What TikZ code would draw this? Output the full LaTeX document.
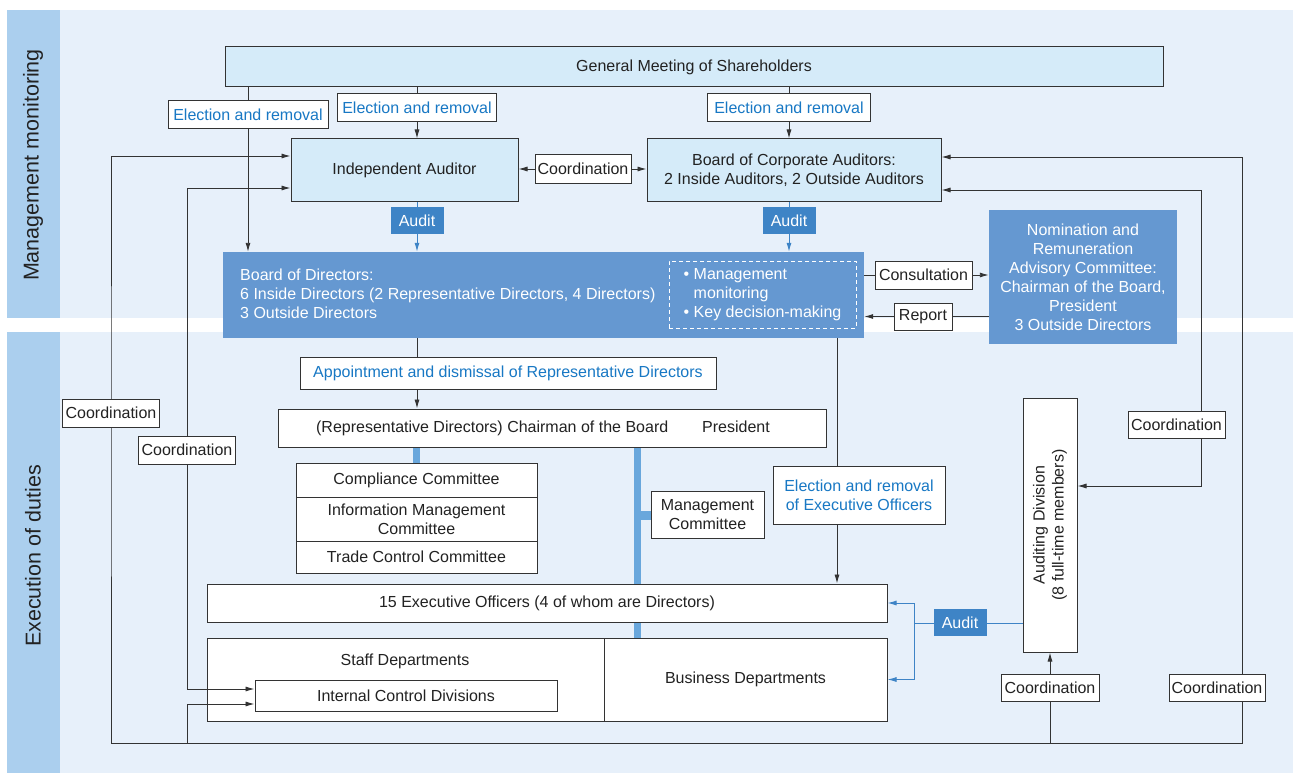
\documentclass[tikz,border=0pt]{standalone}
\usepackage{fontspec}
\setmainfont{Liberation Sans}
\usepackage{tikz}
\usetikzlibrary{arrows.meta,positioning}
\definecolor{panelblue}{HTML}{E7F0FA}
\definecolor{stripblue}{HTML}{ABCFEE}
\definecolor{paleblue}{HTML}{D5EBF9}
\definecolor{boardblue}{HTML}{6598D1}
\definecolor{auditblue}{HTML}{3E84C6}
\definecolor{barblue}{HTML}{69A7DC}
\definecolor{tagblue}{HTML}{1878C4}
\definecolor{linegray}{HTML}{333333}
\definecolor{textgray}{HTML}{222222}
\pgfdeclarelayer{panels}
\pgfdeclarelayer{wires}
\pgfsetlayers{panels,wires,main}
\tikzstyle{organ} = [draw=linegray, fill=paleblue, line width=1pt, inner sep=0pt, align=center, text=textgray]
\tikzstyle{plainbox} = [draw=linegray, fill=white, line width=1pt, inner sep=0pt, align=center, text=textgray]
\tikzstyle{tagbox} = [plainbox, text=tagblue]
\tikzstyle{auditbox} = [fill=auditblue, text=white, inner sep=0pt, minimum width=53pt, minimum height=27pt]
\tikzstyle{boardbox} = [fill=boardblue, inner sep=0pt, text=white, align=center]
\tikzstyle{wire} = [draw=linegray, line width=0.9pt]
\tikzstyle{flow} = [wire, -{Latex[length=9pt,width=5pt]}]
\tikzstyle{twoway} = [wire, {Latex[length=9pt,width=5pt]}-{Latex[length=9pt,width=5pt]}]
\tikzstyle{bluewire} = [draw=auditblue, line width=1pt]
\tikzstyle{bluearrow} = [bluewire, -{Latex[length=9pt,width=5pt]}]
\tikzstyle{deptbar} = [draw=barblue, line width=7pt]
\tikzstyle{sidelabel} = [rotate=90, text=textgray, font=\fontsize{21.5}{26}\selectfont]
\begin{document}
\begin{tikzpicture}[x=1pt, y=-1pt, font=\fontsize{16}{19}\selectfont, text=textgray]
                \useasboundingbox (0,0) rectangle (1293,773);
                \begin{pgfonlayer}{panels}
                    \fill[panelblue] (7,10) rectangle (1293,318);
                    \fill[panelblue] (7,332) rectangle (1293,773);
                    \fill[stripblue] (7,10) rectangle (60,318);
                    \fill[stripblue] (7,332) rectangle (60,773);
                \end{pgfonlayer}
                \node[sidelabel] (monitorlabel) at (33,165) {Management monitoring};
                \node[sidelabel] (dutieslabel) at (33,556) {Execution of duties};
                \node[organ, minimum width=938, minimum height=40] (gms) at (694,67) {General Meeting of Shareholders};
                \node[tagbox, minimum width=160, minimum height=28] (elect1) at (248,115) {Election and removal};
                \node[tagbox, minimum width=159, minimum height=28] (elect2) at (417,108) {Election and removal};
                \node[tagbox, minimum width=163, minimum height=28] (elect3) at (789,108) {Election and removal};
                \node[organ, minimum width=227, minimum height=62] (auditor) at (404.5,170) {Independent Auditor};
                \node[plainbox, minimum width=96, minimum height=28] (coordmid) at (583,169) {Coordination};
                \node[organ, minimum width=294, minimum height=62] (corpaud) at (794,170) {Board of Corporate Auditors:\\2 Inside Auditors, 2 Outside Auditors};
                \node[auditbox] (auditA) at (417,220.5) {Audit};
                \node[auditbox] (auditB) at (789,220.5) {Audit};
                \node[boardbox, minimum width=641, minimum height=86] (board) at (543.5,295) {};
                \node[text=white, align=left, anchor=west, inner sep=0pt] (boardtext) at (240,294) {Board of Directors:\\6 Inside Directors (2 Representative Directors, 4 Directors)\\3 Outside Directors};
                \node[draw=white, dash pattern=on 4pt off 3pt, line width=1pt, minimum width=187, minimum height=67, inner sep=0pt, text=white, align=left] (roles) at (762.5,294.5) {\textbullet\ Management\\\phantom{\textbullet\ }monitoring\\\textbullet\ Key decision-making};
                \node[plainbox, minimum width=97, minimum height=28] (consult) at (923.5,275) {Consultation};
                \node[plainbox, minimum width=58, minimum height=27] (report) at (923,316.5) {Report};
                \node[boardbox, minimum width=188, minimum height=134] (nomination) at (1083,277) {Nomination and\\Remuneration\\Advisory Committee:\\Chairman of the Board,\\President\\3 Outside Directors};
                \node[tagbox, minimum width=416, minimum height=32] (appoint) at (508,373) {Appointment and dismissal of Representative Directors};
                \node[plainbox, minimum width=548, minimum height=38] (chair) at (552,428) {(Representative Directors) Chairman of the Board\hspace{34pt}President\hspace{18pt}};
                \node[plainbox, minimum width=241, minimum height=34] (compliance) at (416.5,480) {Compliance Committee};
                \node[plainbox, minimum width=241, minimum height=44, below=-1pt of compliance] (infomgmt) {Information Management\\Committee};
                \node[plainbox, minimum width=241, minimum height=32, below=-1pt of infomgmt] (tradectrl) {Trade Control Committee};
                \node[plainbox, minimum width=113, minimum height=47] (mgmtcom) at (707.5,515) {Management\\Committee};
                \node[tagbox, minimum width=172, minimum height=58] (electexec) at (859,495) {Election and removal\\of Executive Officers};
                \node[plainbox, minimum width=54, minimum height=254] (auditdiv) at (1050,525) {};
                \node[rotate=90, align=center] (auditdivtext) at (auditdiv) {Auditing Division\\(8 full-time members)};
                \node[plainbox, minimum width=97, minimum height=27] (coordright) at (1176.5,424.5) {Coordination};
                \node[plainbox, minimum width=680, minimum height=38] (officers) at (547,603) {15 Executive Officers (4 of whom are Directors)};
                \node[plainbox, minimum width=397, minimum height=83] (staffdept) at (405.5,679.5) {};
                \node[plainbox, minimum width=283, minimum height=83] (busdept) at (745.5,679.5) {Business Departments};
                \node (stafflabel) at (405,661) {Staff Departments};
                \node[plainbox, minimum width=302, minimum height=31] (internal) at (406,695.5) {Internal Control Divisions};
                \node[auditbox] (auditC) at (960,622.5) {Audit};
                \node[plainbox, minimum width=98, minimum height=27] (coordbottom) at (1050,687.5) {Coordination};
                \node[plainbox, minimum width=96, minimum height=27] (coordfar) at (1217,687.5) {Coordination};
                \node[plainbox, minimum width=97, minimum height=28] (coordleft) at (111,413) {Coordination};
                \node[plainbox, minimum width=97, minimum height=28] (coordinner) at (187,450) {Coordination};
                \coordinate (cornerSW) at (111,743);
                \coordinate (cornerSE) at (1242,743);
                \coordinate (staffSW) at (187,743);
                \coordinate (rightturn) at (1201,486);
                \coordinate (auditfork) at (914,623);
                \begin{pgfonlayer}{wires}
                    \draw[flow] (gms.south -| elect1) -- (board.north -| elect1);
                    \draw[flow] (gms.south -| elect2) -- (auditor.north -| elect2);
                    \draw[flow] (gms.south -| elect3) -- (corpaud.north -| elect3);
                    \draw[bluearrow] (auditor.south -| auditA) -- (board.north -| auditA);
                    \draw[bluearrow] (corpaud.south -| auditB) -- (board.north -| auditB);
                    \draw[flow] (coordmid) -- (auditor.east |- coordmid);
                    \draw[flow] (coordmid) -- (corpaud.west |- coordmid);
                    \draw[flow] (board.east |- consult) -- (nomination.west |- consult);
                    \draw[flow] (nomination.west |- report) -- (board.east |- report);
                    \draw[flow] (board.south -| auditA) -- (chair.north -| auditA);
                    \draw[flow] (board.south -| 837,0) -- (officers.north -| 837,0);
                    \draw[twoway] (auditor.west |- 0,156) -| (coordleft.center) |- (cornerSE) |- (corpaud.east |- 0,157);
                    \draw[flow] (coordinner.center) |- (auditor.west |- 0,188);
                    \draw[flow] (coordbottom |- cornerSW) -- (auditdiv.south);
                    \draw[twoway] (corpaud.east |- 0,190) -| (rightturn) -- (auditdiv.east |- rightturn);
                    \draw[deptbar] (chair.south -| compliance) -- (compliance.north);
                    \draw[deptbar] (chair.south -| 637.5,0) -- (staffdept.north -| 637.5,0);
                    \draw[deptbar, line width=9pt] (mgmtcom.west) -- (mgmtcom.west -| 637.5,0);
                    \draw[bluewire] (auditdiv.west |- auditfork) -- (auditfork);
                    \draw[bluearrow] (auditfork) |- (officers.east);
                    \draw[bluearrow] (auditfork) |- (busdept.east);
                \end{pgfonlayer}
                \draw[flow] (coordinner.south) |- (internal.west |- 0,689);
                \draw[flow] (staffSW) |- (internal.west |- 0,704);
            \end{tikzpicture}
\end{document}
